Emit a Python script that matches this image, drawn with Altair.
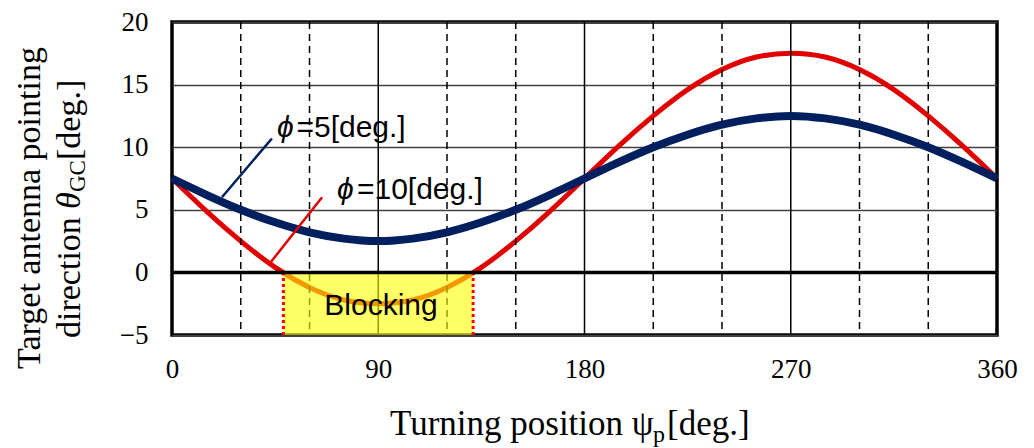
import altair as alt
import pandas as pd

# ---- data ----
psi_p = [0, 15, 30, 45, 60, 75, 90, 105, 120, 135, 150, 165, 180,
         195, 210, 225, 240, 255, 270, 285, 300, 315, 330, 345, 360]
theta_phi5 = [7.5, 6.2, 5.0, 4.0, 3.2, 2.7, 2.5, 2.7, 3.2, 4.0, 5.0, 6.2, 7.5,
              8.8, 10.0, 11.0, 11.8, 12.3, 12.5, 12.3, 11.8, 11.0, 10.0, 8.8, 7.5]
theta_phi10 = [7.5, 4.9, 2.5, 0.4, -1.2, -2.2, -2.5, -2.2, -1.2, 0.4, 2.5, 4.9, 7.5,
               10.1, 12.5, 14.6, 16.2, 17.2, 17.5, 17.2, 16.2, 14.6, 12.5, 10.1, 7.5]

x_ticks = [0, 90, 180, 270, 360]
y_ticks = [-5, 0, 5, 10, 15, 20]
major_grid_x = [90, 180, 270]
minor_grid_x = [30, 60, 120, 150, 210, 240, 300, 330]
blocking_range = [48.6, 131.4]

# annotation anchors (data coordinates)
ann_phi = ["ϕ", "ϕ"]
ann_rest = ["=5[deg.]", "=10[deg.]"]
ann_phi_x = [45.8, 72.0]
ann_rest_x = [54.3, 80.7]
ann_y = [10.8, 5.85]
leader_x = [43.6, 65.5]
leader_y = [10.7, 6.0]
leader_x2 = [21.8, 42.8]
leader_y2 = [6.0, 0.75]
leader_color = ["phi5", "phi10"]

RED = "#E00000"
BLUE = "#001F5F"
SERIF = "Liberation Serif"
SANS = "Liberation Sans"

df5 = pd.DataFrame({"psi": psi_p, "theta": theta_phi5})
df10 = pd.DataFrame({"psi": psi_p, "theta": theta_phi10})
xs = alt.Scale(domain=[0, 360], nice=False, zero=False)
ys = alt.Scale(domain=[-5, 20], nice=False, zero=False)

x_axis = alt.Axis(values=x_ticks, grid=False, ticks=False, tickSize=0,
                  domain=False, labelFont=SERIF, labelFontSize=27,
                  labelColor="black", labelPadding=21, labelFlush=False)
y_axis = alt.Axis(values=y_ticks, grid=True, gridColor="#404040",
                  gridWidth=1.5, ticks=False, tickSize=0, domain=False,
                  labelFont=SERIF, labelFontSize=27, labelColor="black",
                  labelPadding=24, labelFlush=False)


def X(field):
    return alt.X(field, scale=xs, title=None, axis=x_axis)


def Y(field):
    return alt.Y(field, scale=ys, title=None, axis=y_axis)


minor = alt.Chart(pd.DataFrame({"x": minor_grid_x})).mark_rule(
    color="black", strokeWidth=1.5, strokeDash=[7, 5]
).encode(x=X("x:Q"))

major = alt.Chart(pd.DataFrame({"x": major_grid_x})).mark_rule(
    color="black", strokeWidth=1.5
).encode(x=X("x:Q"))

red_line = alt.Chart(df10).mark_line(
    color=RED, strokeWidth=5, interpolate="natural"
).encode(x=X("psi:Q"), y=Y("theta:Q"))

blue_line = alt.Chart(df5).mark_line(
    color=BLUE, strokeWidth=8, interpolate="natural"
).encode(x=X("psi:Q"), y=Y("theta:Q"))

block_df = pd.DataFrame({"x": [blocking_range[0]], "x2": [blocking_range[1]],
                         "y": [-5], "y2": [0]})
block = alt.Chart(block_df).mark_rect(color="#FFFF00", opacity=0.6).encode(
    x=X("x:Q"), x2="x2:Q", y=Y("y:Q"), y2="y2:Q")

bounds = alt.Chart(pd.DataFrame({"x": blocking_range, "y": [-5, -5], "y2": [0, 0]})).mark_rule(
    color="#FF0000", strokeWidth=3, strokeDash=[3, 3]
).encode(x=X("x:Q"), y=Y("y:Q"), y2="y2:Q")

zero = alt.Chart(pd.DataFrame({"y": [0]})).mark_rule(color="black", strokeWidth=3.5).encode(
    y=Y("y:Q"))

lead_df = pd.DataFrame({"x": leader_x, "y": leader_y, "x2": leader_x2, "y2": leader_y2,
                        "s": leader_color})
leaders = alt.Chart(lead_df).mark_rule(strokeWidth=2.5).encode(
    x=X("x:Q"), y=Y("y:Q"), x2="x2:Q", y2="y2:Q",
    color=alt.Color("s:N", scale=alt.Scale(domain=["phi5", "phi10"], range=[BLUE, RED]),
                    legend=None))

ann_df = pd.DataFrame({"phi": ann_phi, "rest": ann_rest, "px": ann_phi_x,
                       "rx": ann_rest_x, "y": ann_y})
phi_txt = alt.Chart(ann_df).mark_text(
    font=SANS, fontSize=30, fontStyle="italic", align="left", baseline="alphabetic",
    color="black").encode(x=X("px:Q"), y=Y("y:Q"), text="phi:N")
rest_txt = alt.Chart(ann_df).mark_text(
    font=SANS, fontSize=30, align="left", baseline="alphabetic",
    color="black").encode(x=X("rx:Q"), y=Y("y:Q"), text="rest:N")
block_txt = alt.Chart(pd.DataFrame({"x": [91.2], "y": [-3.4], "t": ["Blocking"]})).mark_text(
    font=SANS, fontSize=30, align="center", baseline="alphabetic", color="black"
).encode(x=X("x:Q"), y=Y("y:Q"), text="t:N")

one = pd.DataFrame({"a": [0]})


def label(text, x, y, size, angle=0, italic=False, align="left"):
    kw = dict(font=SERIF, fontSize=size, align=align, baseline="alphabetic",
              color="black", text=text)
    if angle:
        kw["angle"] = angle
    if italic:
        kw["fontStyle"] = "italic"
    return alt.Chart(one).mark_text(**kw).encode(x=alt.value(x), y=alt.value(y))


titles = [
    label("Turning position ψ", 218, 413, 35),
    label("p", 481, 420, 24),
    label("[deg.]", 495, 413, 35),
    label("Target antenna pointing", -132, 186, 34, angle=270, align="center"),
    label("direction ", -92, 316, 34, angle=270),
    label("θ", -92, 316 - 129, 34, angle=270, italic=True),
    label("GC", -87, 170, 23, angle=270),
    label("[deg.]", -92, 138, 34, angle=270),
]

chart = alt.layer(
    red_line, minor, major, blue_line, block, bounds, zero,
    leaders, phi_txt, rest_txt, block_txt, *titles
).properties(
    width=825, height=313, autosize="none",
    padding={"left": 172, "top": 22, "right": 37, "bottom": 113},
    background="white",
).configure_view(stroke="black", strokeWidth=3.5)

chart.save("out.html", embed_options={"renderer": "svg", "actions": False})
